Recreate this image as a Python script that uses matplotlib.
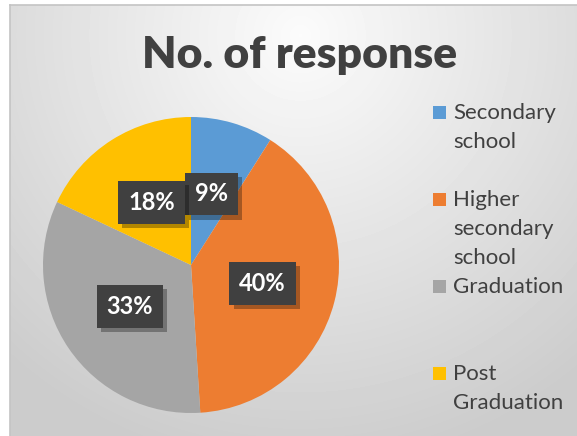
import matplotlib.pyplot as plt
import matplotlib.patheffects as pe
from matplotlib.patches import Rectangle
import numpy as np

categories = ["Secondary\nschool", "Higher\nsecondary\nschool", "Graduation", "Post\nGraduation"]
shares = [9, 40, 33, 18]
colors = ["#5B9BD5", "#ED7D31", "#A5A5A5", "#FFC000"]

plt.rcParams['font.family'] = ['Lato', 'DejaVu Sans']

W, H = 577, 436
fig = plt.figure(figsize=(W / 100, H / 100), dpi=100)

# chart area background: soft radial gradient, white outside the frame
left, top = 10, 5
bg = fig.add_axes([left / W, 0, 1 - left / W, 1 - top / H])
yy, xx = np.mgrid[0:H - top, 0:W - left]
d = np.sqrt(((xx - 290) / 420.0) ** 2 + ((yy - 30) / 420.0) ** 2)
shade = np.clip(0.985 - 0.18 * d, 0.80, 0.985)
bg.imshow(shade, cmap='gray', vmin=0, vmax=1, aspect='auto', interpolation='bilinear')
bg.set_axis_off()
fig.add_artist(plt.Line2D([left / W, 1], [1 - top / H] * 2, color='#c4c4c4', lw=1.2))
fig.add_artist(plt.Line2D([left / W] * 2, [0, 1 - top / H], color='#c4c4c4', lw=1.2))

fig.text(300 / W, 1 - 55 / H, "No. of response", ha='center', va='center',
         fontsize=32, fontweight='heavy', color='#404040')

# pie
cx, cy, r = 191, 265, 148
ax = fig.add_axes([(cx - r) / W, (H - cy - r) / H, 2 * r / W, 2 * r / H])
wedges, texts, autotexts = ax.pie(shares, colors=colors, startangle=90, counterclock=False,
                                  autopct='%d%%', pctdistance=0.5,
                                  wedgeprops=dict(linewidth=0))
for t in autotexts:
    t.set_color('white')
    t.set_fontsize(17)
    t.set_fontweight('bold')
    t.set_bbox(dict(boxstyle='square,pad=0.42', facecolor='#404040', edgecolor='none'))
    t.get_bbox_patch().set_path_effects([pe.withSimplePatchShadow(offset=(3, -3), shadow_rgbFace='black', alpha=0.3), pe.Normal()])
ax.set_xlim(-1, 1)
ax.set_ylim(-1, 1)
ax.set_aspect('equal')

# legend, one entry every 87 px
for i, (lab, c) in enumerate(zip(categories, colors)):
    y = 112 + 87 * i
    fig.add_artist(Rectangle((433 / W, 1 - (y + 7) / H), 13 / W, 13 / H,
                             facecolor=c, edgecolor='none', transform=fig.transFigure))
    fig.text(453 / W, 1 - (y - 9) / H, lab, ha='left', va='top', fontsize=16,
             color='#404040', linespacing=1.55)

fig.savefig('out.png', dpi=100)
